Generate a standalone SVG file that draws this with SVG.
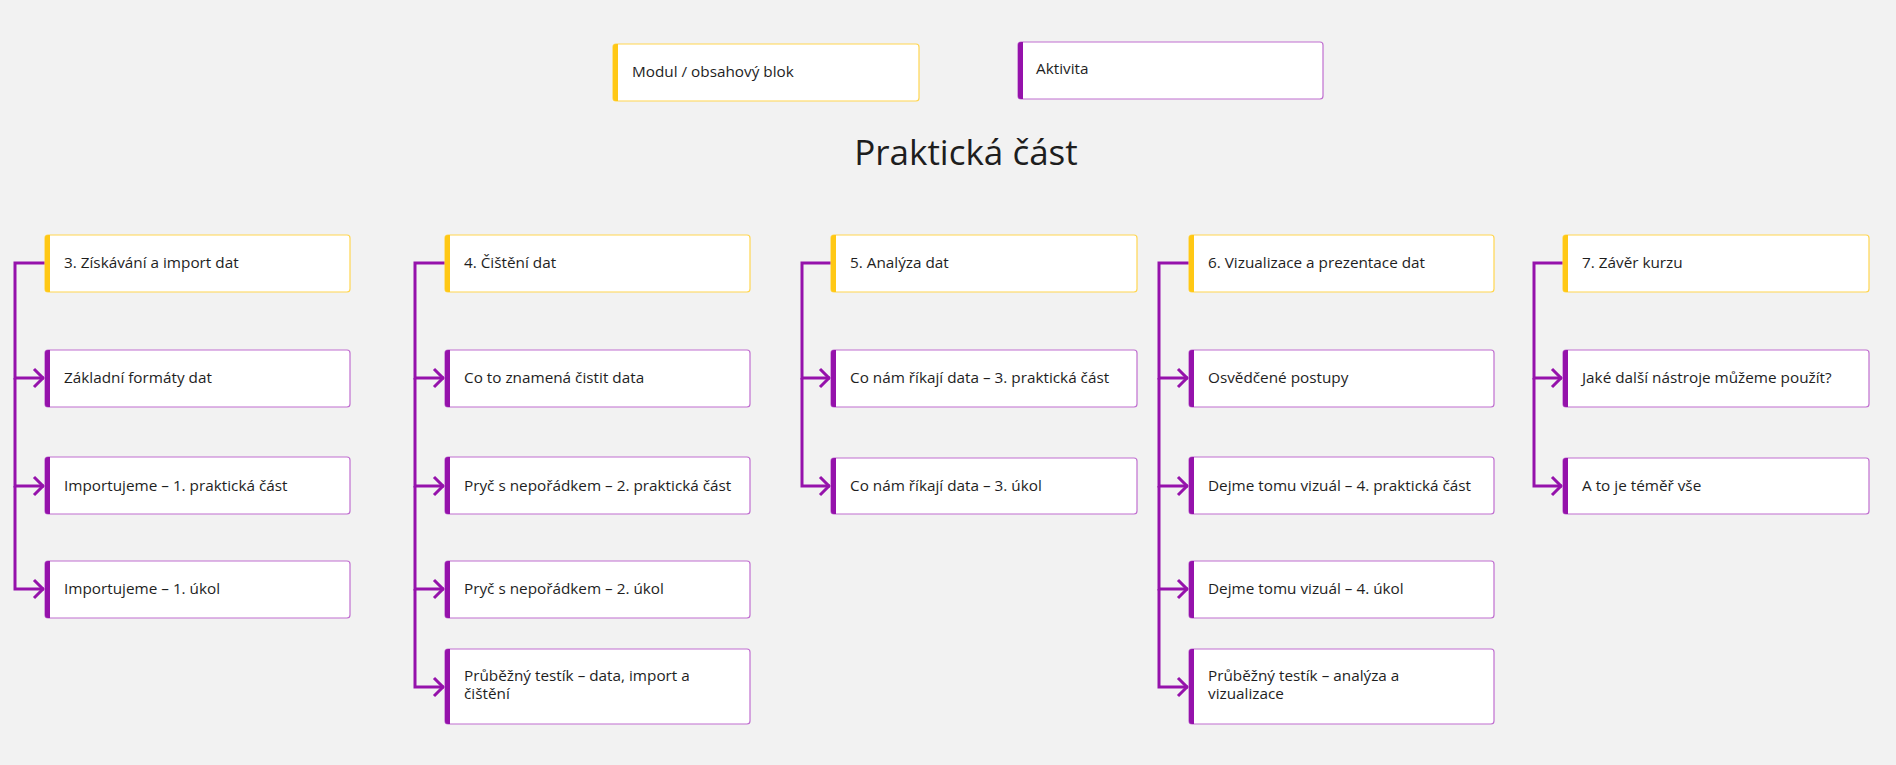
<svg xmlns="http://www.w3.org/2000/svg" width="1896" height="765" viewBox="0 0 1896 765">
<style>
.bg{fill:#f2f2f2}
.box{fill:#ffffff;stroke-width:1.2}
.mod .box{stroke:#ffd650}
.act .box{stroke:#c06fd0}
.mod .bar{fill:#ffc815}
.act .bar{fill:#9512ab}
.t{font-family:"Open Sans","Noto Sans","DejaVu Sans",sans-serif;font-size:15.3px;fill:#1e1e1e}
.title{font-family:"Open Sans","Noto Sans","DejaVu Sans",sans-serif;font-size:35px;fill:#1e1e1e}
.c{fill:none;stroke:#9512ab;stroke-width:3;stroke-linejoin:miter}
</style>
<defs>
<marker id="arr" markerUnits="userSpaceOnUse" viewBox="0 0 14 22" markerWidth="14" markerHeight="22" refX="12" refY="11" orient="auto">
<path d="M2,2 L11,11 L2,20" fill="none" stroke="#9512ab" stroke-width="3"/>
</marker>
</defs>
<rect class="bg" x="0" y="0" width="1896" height="765"/>

<g id="connectors">
<path class="c" d="M45,263 H15 V378 H44" marker-end="url(#arr)"/>
<path class="c" d="M15,378 V486 H44" marker-end="url(#arr)"/>
<path class="c" d="M15,486 V589 H44" marker-end="url(#arr)"/>
<path class="c" d="M445,263 H415 V378 H444" marker-end="url(#arr)"/>
<path class="c" d="M415,378 V486 H444" marker-end="url(#arr)"/>
<path class="c" d="M415,486 V589 H444" marker-end="url(#arr)"/>
<path class="c" d="M415,589 V687 H444" marker-end="url(#arr)"/>
<path class="c" d="M831,263 H802 V378 H830" marker-end="url(#arr)"/>
<path class="c" d="M802,378 V486 H830" marker-end="url(#arr)"/>
<path class="c" d="M1189,263 H1159 V378 H1188" marker-end="url(#arr)"/>
<path class="c" d="M1159,378 V486 H1188" marker-end="url(#arr)"/>
<path class="c" d="M1159,486 V589 H1188" marker-end="url(#arr)"/>
<path class="c" d="M1159,589 V687 H1188" marker-end="url(#arr)"/>
<path class="c" d="M1563,263 H1534 V378 H1562" marker-end="url(#arr)"/>
<path class="c" d="M1534,378 V486 H1562" marker-end="url(#arr)"/>
</g>

<g id="legend-modul" class="mod">
<rect class="box" x="613" y="44" width="306" height="57" rx="3"/>
<path class="bar" d="M616,44 h2 v57 h-2 a3,3 0 0 1 -3,-3 v-51 a3,3 0 0 1 3,-3 z"/>
<text class="t" x="632" y="77">Modul / obsahový blok</text>
</g>
<g id="legend-aktivita" class="act">
<rect class="box" x="1018" y="42" width="305" height="57" rx="3"/>
<path class="bar" d="M1021,42 h2 v57 h-2 a3,3 0 0 1 -3,-3 v-51 a3,3 0 0 1 3,-3 z"/>
<text class="t" x="1036" y="74">Aktivita</text>
</g>

<text id="title" class="title" x="966" y="165" text-anchor="middle">Praktická část</text>

<g id="m3" class="mod">
<rect class="box" x="45" y="235" width="305" height="57" rx="3"/>
<path class="bar" d="M48,235 h2 v57 h-2 a3,3 0 0 1 -3,-3 v-51 a3,3 0 0 1 3,-3 z"/>
<text class="t" x="64" y="268">3. Získávání a import dat</text>
</g>
<g id="a3-1" class="act">
<rect class="box" x="45" y="350" width="305" height="57" rx="3"/>
<path class="bar" d="M48,350 h2 v57 h-2 a3,3 0 0 1 -3,-3 v-51 a3,3 0 0 1 3,-3 z"/>
<text class="t" x="64" y="383">Základní formáty dat</text>
</g>
<g id="a3-2" class="act">
<rect class="box" x="45" y="457" width="305" height="57" rx="3"/>
<path class="bar" d="M48,457 h2 v57 h-2 a3,3 0 0 1 -3,-3 v-51 a3,3 0 0 1 3,-3 z"/>
<text class="t" x="64" y="491">Importujeme – 1. praktická část</text>
</g>
<g id="a3-3" class="act">
<rect class="box" x="45" y="561" width="305" height="57" rx="3"/>
<path class="bar" d="M48,561 h2 v57 h-2 a3,3 0 0 1 -3,-3 v-51 a3,3 0 0 1 3,-3 z"/>
<text class="t" x="64" y="594">Importujeme – 1. úkol</text>
</g>

<g id="m4" class="mod">
<rect class="box" x="445" y="235" width="305" height="57" rx="3"/>
<path class="bar" d="M448,235 h2 v57 h-2 a3,3 0 0 1 -3,-3 v-51 a3,3 0 0 1 3,-3 z"/>
<text class="t" x="464" y="268">4. Čištění dat</text>
</g>
<g id="a4-1" class="act">
<rect class="box" x="445" y="350" width="305" height="57" rx="3"/>
<path class="bar" d="M448,350 h2 v57 h-2 a3,3 0 0 1 -3,-3 v-51 a3,3 0 0 1 3,-3 z"/>
<text class="t" x="464" y="383">Co to znamená čistit data</text>
</g>
<g id="a4-2" class="act">
<rect class="box" x="445" y="457" width="305" height="57" rx="3"/>
<path class="bar" d="M448,457 h2 v57 h-2 a3,3 0 0 1 -3,-3 v-51 a3,3 0 0 1 3,-3 z"/>
<text class="t" x="464" y="491">Pryč s nepořádkem – 2. praktická část</text>
</g>
<g id="a4-3" class="act">
<rect class="box" x="445" y="561" width="305" height="57" rx="3"/>
<path class="bar" d="M448,561 h2 v57 h-2 a3,3 0 0 1 -3,-3 v-51 a3,3 0 0 1 3,-3 z"/>
<text class="t" x="464" y="594">Pryč s nepořádkem – 2. úkol</text>
</g>
<g id="a4-4" class="act">
<rect class="box" x="445" y="649" width="305" height="75" rx="3"/>
<path class="bar" d="M448,649 h2 v75 h-2 a3,3 0 0 1 -3,-3 v-69 a3,3 0 0 1 3,-3 z"/>
<text class="t" x="464" y="681">Průběžný testík – data, import a</text>
<text class="t" x="464" y="699">čištění</text>
</g>

<g id="m5" class="mod">
<rect class="box" x="831" y="235" width="306" height="57" rx="3"/>
<path class="bar" d="M834,235 h2 v57 h-2 a3,3 0 0 1 -3,-3 v-51 a3,3 0 0 1 3,-3 z"/>
<text class="t" x="850" y="268">5. Analýza dat</text>
</g>
<g id="a5-1" class="act">
<rect class="box" x="831" y="350" width="306" height="57" rx="3"/>
<path class="bar" d="M834,350 h2 v57 h-2 a3,3 0 0 1 -3,-3 v-51 a3,3 0 0 1 3,-3 z"/>
<text class="t" x="850" y="383">Co nám říkají data – 3. praktická část</text>
</g>
<g id="a5-2" class="act">
<rect class="box" x="831" y="458" width="306" height="56" rx="3"/>
<path class="bar" d="M834,458 h2 v56 h-2 a3,3 0 0 1 -3,-3 v-50 a3,3 0 0 1 3,-3 z"/>
<text class="t" x="850" y="491">Co nám říkají data – 3. úkol</text>
</g>

<g id="m6" class="mod">
<rect class="box" x="1189" y="235" width="305" height="57" rx="3"/>
<path class="bar" d="M1192,235 h2 v57 h-2 a3,3 0 0 1 -3,-3 v-51 a3,3 0 0 1 3,-3 z"/>
<text class="t" x="1208" y="268">6. Vizualizace a prezentace dat</text>
</g>
<g id="a6-1" class="act">
<rect class="box" x="1189" y="350" width="305" height="57" rx="3"/>
<path class="bar" d="M1192,350 h2 v57 h-2 a3,3 0 0 1 -3,-3 v-51 a3,3 0 0 1 3,-3 z"/>
<text class="t" x="1208" y="383">Osvědčené postupy</text>
</g>
<g id="a6-2" class="act">
<rect class="box" x="1189" y="457" width="305" height="57" rx="3"/>
<path class="bar" d="M1192,457 h2 v57 h-2 a3,3 0 0 1 -3,-3 v-51 a3,3 0 0 1 3,-3 z"/>
<text class="t" x="1208" y="491">Dejme tomu vizuál – 4. praktická část</text>
</g>
<g id="a6-3" class="act">
<rect class="box" x="1189" y="561" width="305" height="57" rx="3"/>
<path class="bar" d="M1192,561 h2 v57 h-2 a3,3 0 0 1 -3,-3 v-51 a3,3 0 0 1 3,-3 z"/>
<text class="t" x="1208" y="594">Dejme tomu vizuál – 4. úkol</text>
</g>
<g id="a6-4" class="act">
<rect class="box" x="1189" y="649" width="305" height="75" rx="3"/>
<path class="bar" d="M1192,649 h2 v75 h-2 a3,3 0 0 1 -3,-3 v-69 a3,3 0 0 1 3,-3 z"/>
<text class="t" x="1208" y="681">Průběžný testík – analýza a</text>
<text class="t" x="1208" y="699">vizualizace</text>
</g>

<g id="m7" class="mod">
<rect class="box" x="1563" y="235" width="306" height="57" rx="3"/>
<path class="bar" d="M1566,235 h2 v57 h-2 a3,3 0 0 1 -3,-3 v-51 a3,3 0 0 1 3,-3 z"/>
<text class="t" x="1582" y="268">7. Závěr kurzu</text>
</g>
<g id="a7-1" class="act">
<rect class="box" x="1563" y="350" width="306" height="57" rx="3"/>
<path class="bar" d="M1566,350 h2 v57 h-2 a3,3 0 0 1 -3,-3 v-51 a3,3 0 0 1 3,-3 z"/>
<text class="t" x="1582" y="383">Jaké další nástroje můžeme použít?</text>
</g>
<g id="a7-2" class="act">
<rect class="box" x="1563" y="458" width="306" height="56" rx="3"/>
<path class="bar" d="M1566,458 h2 v56 h-2 a3,3 0 0 1 -3,-3 v-50 a3,3 0 0 1 3,-3 z"/>
<text class="t" x="1582" y="491">A to je téměř vše</text>
</g>
</svg>
